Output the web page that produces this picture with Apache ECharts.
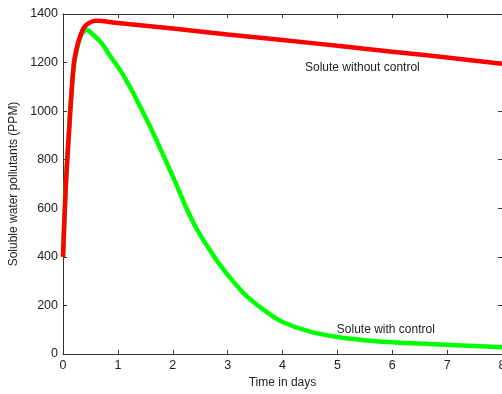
<!DOCTYPE html>
<html>
<head>
<meta charset="utf-8">
<script src="https://cdn.jsdelivr.net/npm/echarts@6/dist/echarts.min.js"></script>
<style>
  html, body { margin: 0; padding: 0; background: #fff; }
  #chart { width: 502px; height: 394px; }
</style>
</head>
<body>
<div id="chart"></div>
<script>
// time (days) and concentration (PPM)
var tWithout = [0, 0.02, 0.04, 0.06, 0.08, 0.1, 0.15, 0.2, 0.25, 0.3, 0.35, 0.4, 0.5, 0.6, 1, 2, 3, 4, 5, 6, 7, 8]
var solWithout = [400, 520, 635, 730, 810, 880, 1060, 1200, 1260, 1300, 1330, 1350, 1366, 1372, 1363, 1340, 1316, 1293, 1269, 1245, 1221, 1195]

var tWith = [0, 0.02, 0.04, 0.06, 0.08, 0.1, 0.15, 0.2, 0.25, 0.3, 0.35, 0.43, 0.5, 0.7, 0.85, 1.035, 1.2, 1.34, 1.58, 1.76, 1.92, 2.1, 2.25, 2.4, 2.55, 2.7, 2.85, 3.04, 3.35, 3.74, 4, 4.5, 5, 5.5, 6, 6.5, 7, 7.5, 8]
var solWith = [400, 525, 640, 735, 815, 885, 1065, 1190, 1250, 1295, 1320, 1335, 1325, 1281, 1230, 1171, 1108, 1048, 940, 852, 772, 680, 600, 530, 472, 420, 370, 315, 237, 168, 132, 92, 70, 57, 48, 43, 38, 33, 28]

var xTicks = [0, 1, 2, 3, 4, 5, 6, 7, 8]
var yTicks = [0, 200, 400, 600, 800, 1000, 1200, 1400]

var labelNoControl = 'Solute without control'
var labelControl = 'Solute with control'

function pairs(xs, ys) {
  return xs.map(function (x, i) { return [x, ys[i]] })
}

var font = '"Liberation Sans", Arial, sans-serif'
var axisColor = '#333'
var textColor = '#222'

var chart = echarts.init(document.getElementById('chart'))

var baseX = {
  type: 'value',
  min: xTicks[0],
  max: xTicks[xTicks.length - 1],
  interval: 1,
  splitLine: { show: false },
  axisLine: { show: true, onZero: false, lineStyle: { color: axisColor, width: 1 } },
  axisTick: { show: true, inside: true, length: 4, lineStyle: { color: axisColor } }
}
var baseY = {
  type: 'value',
  min: yTicks[0],
  max: yTicks[yTicks.length - 1],
  interval: 200,
  splitLine: { show: false },
  axisLine: { show: true, onZero: false, lineStyle: { color: axisColor, width: 1 } },
  axisTick: { show: true, inside: true, length: 4, lineStyle: { color: axisColor } }
}

function textMark(x, y, txt) {
  return {
    symbol: 'circle',
    symbolSize: 0,
    silent: true,
    data: [{
      coord: [x, y],
      label: {
        show: true,
        position: 'inside',
        align: 'left',
        verticalAlign: 'middle',
        formatter: txt,
        color: textColor,
        fontFamily: font,
        fontSize: 12
      }
    }]
  }
}

chart.setOption({
  backgroundColor: '#fff',
  animation: false,
  grid: { left: 63, top: 14, right: 0, bottom: 40, containLabel: false, outerBoundsMode: 'none' },
  xAxis: [
    Object.assign({}, baseX, {
      position: 'bottom',
      name: 'Time in days',
      nameLocation: 'middle',
      nameGap: 22,
      nameTextStyle: { color: textColor, fontFamily: font, fontSize: 12 },
      axisLabel: { color: textColor, fontFamily: font, fontSize: 12.5, margin: 5, formatter: function (v) { return String(v) } }
    }),
    Object.assign({}, baseX, { position: 'top', axisLabel: { show: false } })
  ],
  yAxis: [
    Object.assign({}, baseY, {
      position: 'left',
      name: 'Soluble water pollutants (PPM)',
      nameLocation: 'middle',
      nameGap: 42,
      nameTextStyle: { color: textColor, fontFamily: font, fontSize: 12 },
      axisLabel: { color: textColor, fontFamily: font, fontSize: 12.5, margin: 5, formatter: function (v) { return String(v) } }
    }),
    Object.assign({}, baseY, { position: 'right', axisLabel: { show: false } })
  ],
  series: [
    {
      name: labelControl,
      type: 'line',
      smooth: 0.3,
      showSymbol: false,
      lineStyle: { color: '#00ff00', width: 4.5 },
      data: pairs(tWith, solWith),
      markPoint: textMark(4.99, 100, labelControl)
    },
    {
      name: labelNoControl,
      type: 'line',
      smooth: 0.3,
      showSymbol: false,
      lineStyle: { color: '#ff0000', width: 4.5 },
      data: pairs(tWithout, solWithout),
      markPoint: textMark(4.41, 1179, labelNoControl)
    }
  ]
})
</script>
</body>
</html>
